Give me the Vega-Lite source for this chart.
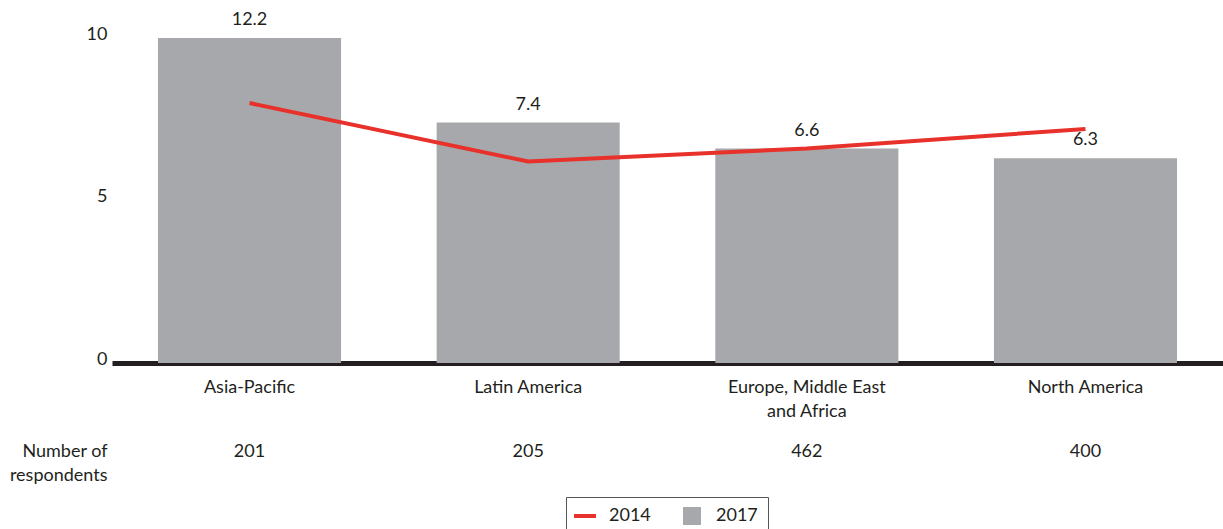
{
  "$schema": "https://vega.github.io/schema/vega-lite/v6.json",
  "width": 1111,
  "height": 325,
  "autosize": {"type": "none"},
  "padding": {"left": 112, "top": 38, "right": 0, "bottom": 166},
  "background": "white",
  "config": {
    "view": {"stroke": null},
    "font": "Lato",
    "text": {"font": "Lato", "fontSize": 18, "color": "#231f20"}
  },
  "data": {
    "values": [
      {"region": "Asia-Pacific", "v2017": 12.2, "v2014": 8.0, "respondents": 201},
      {"region": "Latin America", "v2017": 7.4, "v2014": 6.2, "respondents": 205},
      {"region": "Europe, Middle East and Africa", "v2017": 6.6, "v2014": 6.6, "respondents": 462},
      {"region": "North America", "v2017": 6.3, "v2014": 7.2, "respondents": 400}
    ]
  },
  "encoding": {
    "x": {
      "field": "region",
      "type": "nominal",
      "sort": null,
      "scale": {"paddingInner": 0.343, "paddingOuter": 0.165},
      "axis": {
        "title": ["Number of", "respondents"],
        "titleX": -5,
        "titleY": 79,
        "titleAlign": "right",
        "titleBaseline": "top",
        "titleAngle": 0,
        "titleFont": "Lato",
        "titleFontSize": 18,
        "titleFontWeight": "normal",
        "titleColor": "#231f20",
        "titleLineHeight": 24,
        "labelAngle": 0,
        "labelFont": "Lato",
        "labelFontSize": 18,
        "labelColor": "#231f20",
        "labelPadding": 15,
        "labelLineHeight": 24,
        "labelBaseline": "top",
        "labelExpr": "datum.label == 'Europe, Middle East and Africa' ? ['Europe, Middle East', 'and Africa'] : datum.label",
        "ticks": false,
        "domainColor": "#231f20",
        "domainWidth": 5,
        "grid": false
      }
    }
  },
  "layer": [
    {
      "mark": {"type": "bar", "clip": true},
      "encoding": {
        "y": {
          "field": "v2017",
          "type": "quantitative",
          "scale": {"domain": [0, 10], "nice": false},
          "axis": {
            "title": null,
            "values": [0, 5, 10],
            "domain": false,
            "ticks": false,
            "grid": false,
            "labelFont": "Lato",
            "labelFontSize": 18,
            "labelColor": "#231f20",
            "labelPadding": 5,
            "labelOffset": -4
          }
        },
        "color": {
          "datum": "2017",
          "type": "nominal",
          "scale": {"domain": ["2014", "2017"], "range": ["#e8312a", "#a7a8ab"]},
          "legend": {
            "orient": "none",
            "legendX": 454,
            "legendY": 459,
            "direction": "horizontal",
            "title": null,
            "strokeColor": "#555555",
            "padding": 10,
            "labelFont": "Lato",
            "labelFontSize": 18,
            "labelColor": "#231f20",
            "columnPadding": 32,
            "labelOffset": 15,
            "symbolSize": 324,
            "encode": {
              "symbols": {
                "update": {
                  "shape": {"signal": "datum.value === '2014' ? 'stroke' : 'square'"},
                  "strokeWidth": {"signal": "datum.value === '2014' ? 4 : 0"},
                  "stroke": {"signal": "datum.value === '2014' ? '#e8312a' : 'transparent'"},
                  "fill": {"signal": "datum.value === '2014' ? 'transparent' : '#a7a8ab'"},
                  "size": {"signal": "datum.value === '2014' ? 484 : 324"},
                  "opacity": {"value": 1}
                }
              }
            }
          }
        }
      }
    },
    {
      "mark": {"type": "line", "strokeWidth": 4},
      "encoding": {
        "y": {"field": "v2014", "type": "quantitative"},
        "color": {"datum": "2014", "type": "nominal"}
      }
    },
    {
      "transform": [{"filter": "datum.v2017 <= 10"}],
      "mark": {"type": "text", "dy": -18, "baseline": "middle"},
      "encoding": {
        "y": {"field": "v2017", "type": "quantitative"},
        "text": {"field": "v2017", "type": "quantitative", "format": ".1f"}
      }
    },
    {
      "transform": [{"filter": "datum.v2017 > 10"}],
      "mark": {"type": "text", "dy": -18, "baseline": "middle"},
      "encoding": {
        "y": {"datum": 10, "type": "quantitative"},
        "text": {"field": "v2017", "type": "quantitative", "format": ".1f"}
      }
    },
    {
      "mark": {"type": "text", "baseline": "middle"},
      "encoding": {
        "y": {"datum": -2.74, "type": "quantitative"},
        "text": {"field": "respondents", "type": "quantitative"}
      }
    }
  ]
}
